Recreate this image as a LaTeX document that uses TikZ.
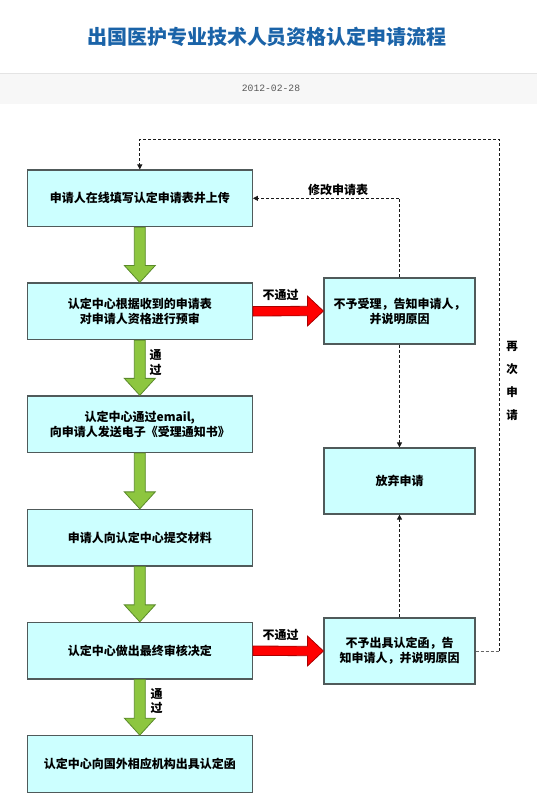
\documentclass[tikz,border=0pt]{standalone}
\usepackage{fontspec}
\setmainfont{Liberation Sans}
\newfontfamily\cjk{Noto Sans CJK SC}
\newfontfamily\datefont{Liberation Mono}
\usetikzlibrary{calc,arrows.meta}
\definecolor{titleblue}{HTML}{1A63A8}
\definecolor{boxfill}{HTML}{CCFFFF}
\definecolor{boxline}{HTML}{505A5A}
\definecolor{gfill}{HTML}{8DC63F}
\definecolor{gline}{HTML}{5A8A2A}
\definecolor{rfill}{HTML}{FF0000}
\definecolor{rline}{HTML}{A80000}
\definecolor{bandfill}{HTML}{F7F7F7}
\definecolor{bandline}{HTML}{E4E4E4}
\tikzset{
  mainbox/.style={draw=boxline, line width=1.2pt, fill=boxfill, minimum width=225pt, minimum height=56.5pt, inner sep=0pt, align=center, font=\cjk\bfseries\fontsize{12}{15}\selectfont},
  sidebox/.style={draw=boxline, line width=1.2pt, fill=boxfill, minimum width=151pt, minimum height=66pt, inner sep=0pt, align=center, font=\cjk\bfseries\fontsize{12}{15}\selectfont},
  lbl/.style={font=\cjk\bfseries\fontsize{12}{14}\selectfont, inner sep=0pt, align=center},
  garrow/.style={draw=gline, fill=gfill, line width=0.8pt, line join=miter},
  rarrow/.style={draw=rline, fill=rfill, line width=0.8pt, line join=miter},
  dline/.style={draw=black!90, line width=0.8pt, dash pattern=on 3pt off 2pt},
  dtip/.style={-{Triangle[length=5pt,width=5pt]}}
}
\newcommand{\greenarrow}[2]{%
  \path[garrow] ($(#1.south)+(-5.5,0)$) -- ($(#2.north)+(-5.5,-17)$) -- ($(#2.north)+(-15.5,-17)$) -- (#2.north) -- ($(#2.north)+(15.5,-17)$) -- ($(#2.north)+(5.5,-17)$) -- ($(#1.south)+(5.5,0)$) -- cycle;}
\newcommand{\redarrow}[2]{%
  \path[rarrow] ($(#1.east)+(0,-4.7)$) -- ($(#2.west)+(-16,-4.7)$) -- ($(#2.west)+(-16,-15)$) -- (#2.west) -- ($(#2.west)+(-16,15)$) -- ($(#2.west)+(-16,4.7)$) -- ($(#1.east)+(0,4.7)$) -- cycle;}
\begin{document}
\begin{tikzpicture}[x=1pt,y=-1pt]
\useasboundingbox (0,0) rectangle (537,804);
\fill[white] (0,0) rectangle (537,804);
% header
\node[font=\cjk\bfseries\fontsize{20}{22}\selectfont, text=titleblue, inner sep=0pt] (title) at (267,37) {出国医护专业技术人员资格认定申请流程};
\fill[bandfill] (0,73) rectangle (537,104);
\draw[bandline, line width=1pt] (0,73) -- (537,73);
\node[font=\datefont\fontsize{9.7}{11}\selectfont, text=black!65, inner sep=0pt] (date) at (271,88) {2012-02-28};
% main boxes
\node[mainbox] (b1) at (139.8,198.3) {申请人在线填写认定申请表井上传};
\node[mainbox] (b2) at (139.8,311.3) {认定中心根据收到的申请表\\对申请人资格进行预审};
\node[mainbox] (b3) at (139.8,424.2) {认定中心通过email,\\向申请人发送电子《受理通知书》};
\node[mainbox] (b4) at (139.8,537.7) {申请人向认定中心提交材料};
\node[mainbox] (b5) at (139.8,650.7) {认定中心做出最终审核决定};
\node[mainbox] (b6) at (139.8,764) {认定中心向国外相应机构出具认定函};
% side boxes
\node[sidebox] (r1) at (399.5,311) {不予受理，告知申请人，\\并说明原因};
\node[sidebox] (r2) at (399.5,481) {放弃申请};
\node[sidebox] (r3) at (399.5,651) {不予出具认定函，告\\知申请人，并说明原因};
% green arrows
\greenarrow{b1}{b2}
\greenarrow{b2}{b3}
\greenarrow{b3}{b4}
\greenarrow{b4}{b5}
\greenarrow{b5}{b6}
\node[lbl] (pass1) at (155.5,362.5) {通\\[1pt]过};
\node[lbl] (pass2) at (156.5,701.5) {通\\过};
% red arrows
\redarrow{b2}{r1}
\redarrow{b5}{r3}
\node[lbl] (fail1) at (280.5,295) {不通过};
\node[lbl] (fail2) at (280.5,634.5) {不通过};
% dashed connectors
\coordinate (loopR) at (499.3,139.3);
\coordinate (loopL) at (139.8,139.3);
\draw[dline, draw=black!60] (r3.east) -- (r3.east -| loopR);
\draw[dline, dtip] (r3.east -| loopR) -- (loopR) -- (loopL) -- (b1.north);
\draw[dline, dtip] (r1.north) |- (b1.east);
\node[lbl] (modify) at (338,190) {修改申请表};
\draw[dline, dtip] (r1.south) -- (r2.north);
\draw[dline, dtip] (r3.north) -- (r2.south);
\node[lbl, font=\cjk\bfseries\fontsize{11.5}{23}\selectfont] (again) at (512,381) {再\\次\\申\\请};
\end{tikzpicture}
\end{document}
